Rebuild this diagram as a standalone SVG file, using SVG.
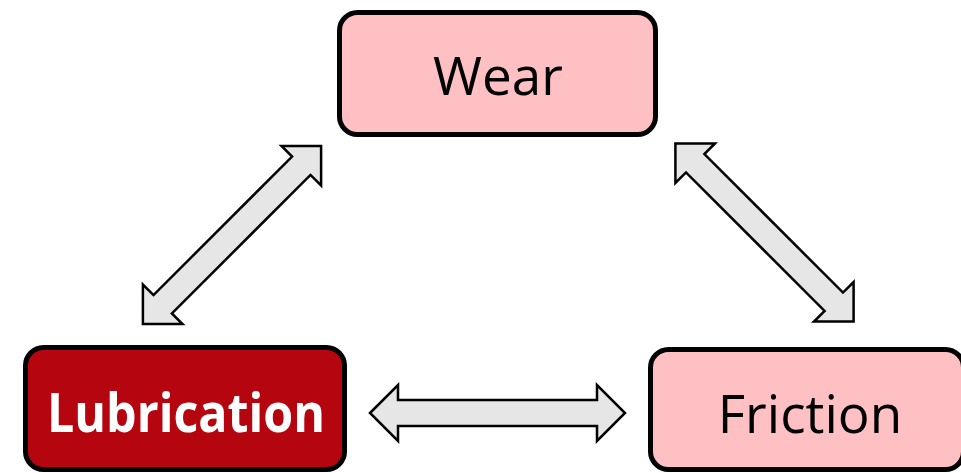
<svg xmlns="http://www.w3.org/2000/svg" width="961" height="473" viewBox="0 0 961 473">
<style>
.box{stroke:#000;stroke-width:5;}
.pink{fill:#ffc0c3;}
.red{fill:#b5050f;}
.lbl{font-family:"Open Sans","Noto Sans",sans-serif;font-size:53px;text-anchor:middle;fill:#000;}
.lblb{font-family:"Open Sans","Noto Sans",sans-serif;font-size:54px;font-weight:bold;text-anchor:middle;fill:#fff;}
.arr{fill:#e6e6e6;stroke:#000;stroke-width:2.5;stroke-linejoin:miter;}
</style>
<rect width="961" height="473" fill="#fff"/>
<g id="connectors">
<polygon class="arr" transform="translate(497.5,413)" points="-127.5,0 -99.5,-28 -99.5,-13 99.5,-13 99.5,-28 127.5,0 99.5,28 99.5,13 -99.5,13 -99.5,28"/>
<polygon class="arr" transform="translate(232,235) rotate(-45)" points="-126,0 -98,-28 -98,-13 98,-13 98,-28 126,0 98,28 98,13 -98,13 -98,28"/>
<polygon class="arr" transform="translate(764.5,232.5) rotate(45)" points="-126,0 -98,-28 -98,-13 98,-13 98,-28 126,0 98,28 98,13 -98,13 -98,28"/>
</g>
<g id="wear">
<rect class="box pink" x="339.5" y="12.5" width="316" height="122" rx="18"/>
<text class="lbl" x="498" y="95">Wear</text>
</g>
<g id="lubrication">
<rect class="box red" x="25.5" y="347.5" width="319" height="122" rx="18"/>
<text class="lblb" x="186" y="432" textLength="278" lengthAdjust="spacingAndGlyphs">Lubrication</text>
</g>
<g id="friction">
<rect class="box pink" x="650.5" y="349.5" width="313" height="120" rx="18"/>
<text class="lbl" x="810" y="433">Friction</text>
</g>
</svg>
